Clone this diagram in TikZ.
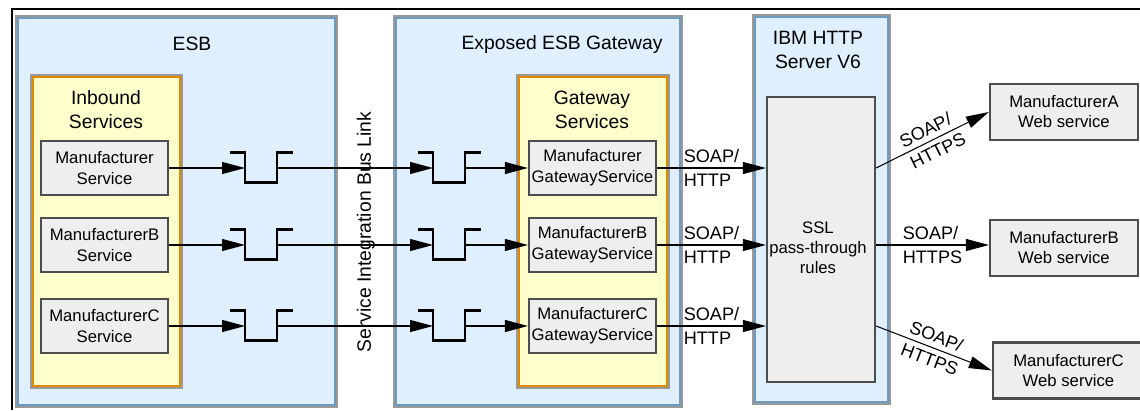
\documentclass[tikz,border=0pt]{standalone}
\usepackage{fontspec}
\setmainfont{Liberation Sans}
\usepackage{tikz}
\usetikzlibrary{arrows.meta}
\definecolor{zonefill}{HTML}{DFEFFD}
\definecolor{zoneline}{HTML}{6B9BC1}
\definecolor{rim}{HTML}{999999}
\definecolor{groupfill}{HTML}{FFFFCC}
\definecolor{groupline}{HTML}{E08A00}
\definecolor{boxfill}{HTML}{EEEEEE}
\definecolor{boxline}{HTML}{4D4D4D}

\tikzset{
  zone/.style={draw=zoneline, fill=zonefill, line width=1.1pt, preaction={draw=rim, line width=3.6pt}},
  group/.style={draw=groupline, fill=groupfill, line width=1.1pt, preaction={draw=rim, line width=3.6pt}},
  svc/.style={draw=boxline, fill=boxfill, line width=1.3pt, minimum width=2.54cm, minimum height=1.08cm,
    inner sep=1pt, align=center, font=\fontsize{9.5}{12}\selectfont},
  web/.style={minimum width=2.96cm, minimum height=1.12cm, font=\fontsize{9.5}{11.4}\selectfont},
  title/.style={align=center, inner sep=0pt, font=\fontsize{11}{13.6}\selectfont},
  note/.style={align=center, inner sep=0pt, font=\fontsize{9.5}{11.3}\selectfont},
  proto/.style={align=left, inner sep=0pt, font=\fontsize{10.3}{13.6}\selectfont},
  arr/.style={-{Triangle[length=0.46cm,width=0.24cm]}, line width=0.6pt},
  sheet/.style={line width=0.8pt},
  queue/.pic={
    \coordinate (-in) at (0,0);
    \coordinate (-out) at (32,0);
    \draw[line width=1.7pt] (-15,-16) -- (0,-16) -- (0,14) -- (32,14) -- (32,-16) -- (48,-16);
  }
}

\begin{document}
\begin{tikzpicture}[x=0.02cm, y=-0.02cm]
  \useasboundingbox (0,0) rectangle (1140,410);
  \draw[sheet] (1140,9) -| (12,410);

  % ESB
  \node[zone, minimum width=6.34cm, minimum height=7.74cm] (esb) at (176.5,211.5) {};
  \node[title] (esbt) at (192,44) {ESB};
  \node[group, minimum width=2.94cm, minimum height=6.18cm] (inb) at (106.5,231.5) {};
  \node[title] (inbt) at (106,110) {Inbound\\Services};
  \node[svc] (s1) at (104.5,168) {Manufacturer\\Service};
  \node[svc] (s2) at (104.5,245) {ManufacturerB\\Service};
  \node[svc] (s3) at (104.5,326) {ManufacturerC\\Service};

  % Exposed gateway
  \node[zone, minimum width=5.68cm, minimum height=7.74cm] (gw) at (538,211.5) {};
  \node[title] (gwt) at (562,44) {Exposed ESB Gateway};
  \node[group, minimum width=2.96cm, minimum height=6.18cm] (gws) at (593,231.5) {};
  \node[title] (gwst) at (592,110) {Gateway\\Services};
  \node[svc] (g1) at (592.5,168) {Manufacturer\\GatewayService};
  \node[svc] (g2) at (592.5,245) {ManufacturerB\\GatewayService};
  \node[svc] (g3) at (592.5,326) {ManufacturerC\\GatewayService};

  \node[title, rotate=90] (sibl) at (366,232) {Service Integration Bus Link};

  % HTTP server
  \node[zone, minimum width=2.66cm, minimum height=7.7cm] (ihs) at (821.5,209.5) {};
  \node[title] (ihst) at (818,50) {IBM HTTP\\Server V6};
  \node[svc, minimum width=2.16cm, minimum height=5.7cm] (ssl) at (821,239.5) {};
  \node[note] (sslt) at (818,248) {SSL\\pass-through\\rules};

  % web services
  \node[svc, web] (wa) at (1064,112) {ManufacturerA\\Web service};
  \node[svc, web] (wb) at (1064,248) {ManufacturerB\\Web service};
  \node[svc, web, minimum width=3.02cm] (wc) at (1068.5,370.5) {ManufacturerC\\Web service};

  % queues
  \pic (qa1) at (245,168) {queue};
  \pic (qa2) at (245,245) {queue};
  \pic (qa3) at (245,326) {queue};
  \pic (qb1) at (433,168) {queue};
  \pic (qb2) at (433,245) {queue};
  \pic (qb3) at (433,326) {queue};

  \draw[arr] (s1.east) -- (qa1-in);
  \draw[arr] (s2.east) -- (qa2-in);
  \draw[arr] (s3.east) -- (qa3-in);
  \draw[arr] (qa1-out) -- (qb1-in);
  \draw[arr] (qa2-out) -- (qb2-in);
  \draw[arr] (qa3-out) -- (qb3-in);
  \draw[arr] (qb1-out) -- (g1.west);
  \draw[arr] (qb2-out) -- (g2.west);
  \draw[arr] (qb3-out) -- (g3.west);

  \draw[arr] (g1.east) -- node[proto] (p1) {SOAP/\\HTTP} (g1.east -| ssl.west);
  \draw[arr] (g2.east) -- node[proto] (p2) {SOAP/\\HTTP} (g2.east -| ssl.west);
  \draw[arr] (g3.east) -- node[proto] (p3) {SOAP/\\HTTP} (g3.east -| ssl.west);

  \draw[arr] (ssl.east |- g1.east) -- node[proto, sloped] (h1) {SOAP/\\HTTPS} (wa.west);
  \draw[arr] (ssl.east |- g2.east) -- node[proto] (h2) {SOAP/\\HTTPS} (g2.east -| wb.west);
  \draw[arr] (ssl.east |- g3.east) -- node[proto, sloped] (h3) {SOAP/\\HTTPS} (wc.west);
\end{tikzpicture}
\end{document}
